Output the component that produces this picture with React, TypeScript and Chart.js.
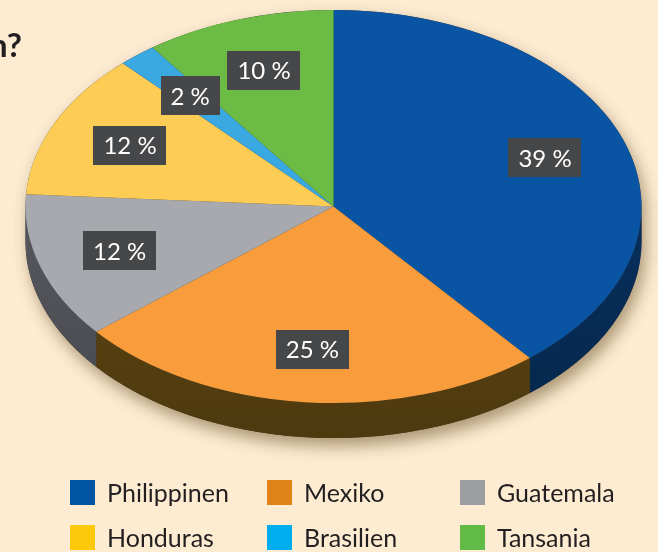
import React, { useEffect, useRef } from "react";
import { Chart, registerables } from "chart.js";

Chart.register(...registerables);

// ---------- data ----------
const categories = ["Philippinen", "Mexiko", "Guatemala", "Honduras", "Brasilien", "Tansania"];
const shares = [39, 25, 12, 12, 2, 10];
const valueLabels = ["39 %", "25 %", "12 %", "12 %", "2 %", "10 %"];
const topColors = ["#0a55a3", "#f99d3c", "#a7a9ae", "#fdcc55", "#3aa8e1", "#6cbb45"];
const sideColors = ["#072f5c", "#5f4612", "#56585e", "#8a6d1c", "#1b5f86", "#3b6a25"];
const legendColors = ["#0055a2", "#e0841a", "#9c9da1", "#fec90a", "#00adee", "#63bb47"];
const titleText = "h?";

// ---------- style / layout ----------
const BG = "#fdecd2";
const TEXT = "#231f20";
const FONT = "Lato, 'Open Sans', sans-serif";
const STRETCH = 308 / 196.5; // horizontal stretch of the tilted pie
const DEPTH = 35;
const LABEL_R = 0.73;

const pie3d = {
  id: "pie3d",
  beforeDatasetsDraw(chart: any) {
    const ctx = chart.ctx as CanvasRenderingContext2D;
    const arcs = chart.getDatasetMeta(0).data as any[];
    if (!arcs.length) return;
    const { x, y, outerRadius: r } = arcs[0].getProps(["x", "y", "outerRadius"], true);
    ctx.save();
    ctx.translate(x, 0);
    ctx.scale(STRETCH, 1);
    ctx.translate(-x, 0);

    // soft shadow + silhouette of the side wall
    ctx.save();
    ctx.shadowColor = "rgba(70,45,0,0.45)";
    ctx.shadowBlur = 16;
    ctx.shadowOffsetX = 4;
    ctx.shadowOffsetY = 8;
    ctx.beginPath();
    ctx.arc(x, y + DEPTH, r, 0, Math.PI);
    ctx.arc(x, y, r, Math.PI, Math.PI * 2);
    ctx.closePath();
    ctx.fillStyle = "#3a3a3a";
    ctx.fill();
    ctx.restore();

    // walls per slice (front half only)
    arcs.forEach((a: any, i: number) => {
      const p = a.getProps(["startAngle", "endAngle"], true);
      const s = Math.max(p.startAngle, 0);
      const e = Math.min(p.endAngle, Math.PI);
      if (e <= s) return;
      ctx.beginPath();
      ctx.arc(x, y, r, s, e);
      ctx.arc(x, y + DEPTH, r, e, s, true);
      ctx.closePath();
      ctx.fillStyle = sideColors[i];
      ctx.fill();
    });
    // slight darkening toward the bottom of the wall
    const g = ctx.createLinearGradient(0, y, 0, y + r + DEPTH);
    g.addColorStop(0, "rgba(0,0,0,0)");
    g.addColorStop(1, "rgba(0,0,0,0.18)");
    ctx.beginPath();
    ctx.arc(x, y + DEPTH, r, 0, Math.PI);
    ctx.arc(x, y, r, Math.PI, 0, true);
    ctx.closePath();
    ctx.fillStyle = g;
    ctx.fill();
  },
  afterDatasetsDraw(chart: any) {
    const ctx = chart.ctx as CanvasRenderingContext2D;
    ctx.restore();
    const arcs = chart.getDatasetMeta(0).data as any[];
    ctx.save();
    ctx.font = `24px ${FONT}`;
    ctx.textAlign = "center";
    ctx.textBaseline = "middle";
    arcs.forEach((a: any, i: number) => {
      const p = a.getProps(["x", "y", "startAngle", "endAngle", "outerRadius"], true);
      const mid = (p.startAngle + p.endAngle) / 2;
      const px = p.x + STRETCH * p.outerRadius * LABEL_R * Math.cos(mid);
      const py = p.y + p.outerRadius * LABEL_R * Math.sin(mid);
      const txt = valueLabels[i];
      const w = ctx.measureText(txt).width + 20;
      const h = 39;
      ctx.fillStyle = "#464749";
      ctx.fillRect(Math.round(px - w / 2), Math.round(py - h / 2), Math.round(w), h);
      ctx.fillStyle = "#ffffff";
      ctx.fillText(txt, px, py + 1);
    });
    ctx.restore();
  },
};

export default function App() {
  const ref = useRef<HTMLCanvasElement | null>(null);

  useEffect(() => {
    if (!ref.current) return;
    const chart = new Chart(ref.current, {
      type: "pie",
      data: {
        labels: categories,
        datasets: [
          {
            data: shares,
            backgroundColor: topColors,
            borderWidth: 0,
            hoverOffset: 0,
            clip: false as any,
          },
        ],
      },
      options: {
        responsive: false,
        animation: false,
        events: [],
        layout: { padding: { left: 25.5, right: 16.5, top: 10, bottom: 149 } },
        plugins: {
          legend: { display: false },
          tooltip: { enabled: false },
          title: { display: false },
        },
      },
      plugins: [pie3d],
    });
    return () => chart.destroy();
  }, []);

  const cols = [70, 267, 460];
  const rows = [480, 525];

  return (
    <div
      style={{
        position: "fixed",
        left: 0,
        top: 0,
        width: 658,
        height: 552,
        background: BG,
        overflow: "hidden",
        fontFamily: FONT,
      }}
    >
      <canvas ref={ref} width={658} height={552} style={{ position: "absolute", left: 0, top: 0 }} />
      <div
        style={{
          position: "absolute",
          left: -11,
          top: 28,
          fontSize: 33,
          lineHeight: 1,
          fontWeight: 700,
          color: TEXT,
          whiteSpace: "nowrap",
        }}
      >
        {titleText}
      </div>
      {categories.map((c, i) => (
        <div
          key={c}
          style={{
            position: "absolute",
            left: cols[i % 3],
            top: rows[Math.floor(i / 3)],
            height: 25,
            display: "flex",
            alignItems: "center",
            whiteSpace: "nowrap",
          }}
        >
          <span style={{ width: 25, height: 25, background: legendColors[i], display: "inline-block" }} />
          <span style={{ marginLeft: 12, fontSize: 25, color: TEXT, lineHeight: 1 }}>{c}</span>
        </div>
      ))}
    </div>
  );
}
